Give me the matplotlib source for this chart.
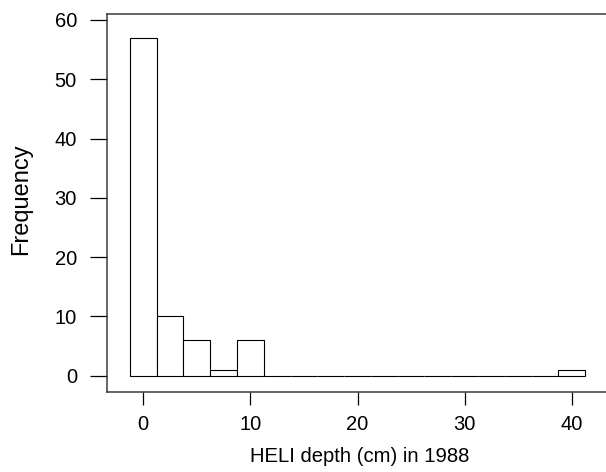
import matplotlib
matplotlib.use("Agg")
import matplotlib.pyplot as plt

# histogram of HELI depth, bins 2.5 cm wide centred on multiples of 2.5
bin_centers = [0, 2.5, 5, 7.5, 10, 12.5, 15, 17.5, 20, 22.5, 25, 27.5, 30, 32.5, 35, 37.5, 40]
counts      = [57, 10, 6, 1, 6, 0, 0, 0, 0, 0, 0, 0, 0, 0, 0, 0, 1]
x_ticks     = [0, 10, 20, 30, 40]
y_ticks     = [0, 10, 20, 30, 40, 50, 60]

plt.rcParams["font.family"] = ["Liberation Sans", "DejaVu Sans"]

W, H = 606, 472
fig = plt.figure(figsize=(W / 100, H / 100), dpi=100)

left    = 107.3 / W
bottom  = 1 - 391.7 / H
top     = 1 - 14.0 / H
ax = fig.add_axes([left, bottom, 1.0 - left, top - bottom])

ax.bar(
    bin_centers
    , counts
    , width     = 2.5
    , color     = "white"
    , edgecolor = "black"
    , linewidth = 0.8
)

ax.set_xlim(-3.36, 43.2)
ax.set_ylim(-2.68, 61.0)
ax.set_xticks(x_ticks)
ax.set_yticks(y_ticks)

# frame: left, top and bottom only, the right edge falls outside the picture
spine_color = "#3a3a3a"
for side in ["left", "top", "bottom"]:
    ax.spines[side].set_color(spine_color)
    ax.spines[side].set_linewidth(1.1)
ax.spines["right"].set_visible(False)

ax.tick_params(axis="x", length=9.1, width=0.9, pad=8, labelsize=14.5, color="black")
ax.tick_params(axis="y", length=12.4, width=0.9, pad=9.5, labelsize=14.5, color="black")

ax.set_xlabel("HELI depth (cm) in 1988", fontsize=14.6, labelpad=9)
ax.set_ylabel("Frequency", fontsize=17, labelpad=16)
ax.xaxis.label.set_position(((360 - 107.3) / (W - 107.3), 0))
ax.yaxis.label.set_position((0, 1 - (199 - 14.0) / (391.7 - 14.0)))

fig.savefig("out.png", dpi=100)
